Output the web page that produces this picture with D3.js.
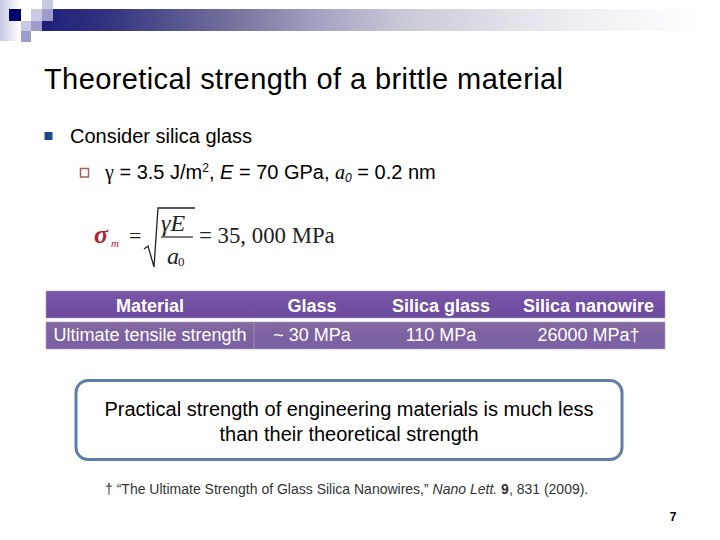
<!DOCTYPE html>
<html><head><meta charset="utf-8">
<script src="https://cdn.jsdelivr.net/npm/d3@7"></script>
<style>html,body{margin:0;padding:0;background:#fff}svg{display:block;font-family:"Liberation Sans",Arial,sans-serif}</style>
</head><body><svg id="c" width="720" height="540"></svg>
<script>
const columns = ["Material", "Glass", "Silica glass", "Silica nanowire"];
const rowValues = ["Ultimate tensile strength", "~ 30 MPa", "110 MPa", "26000 MPa†"];
const columnEdges = [46, 254, 370, 512, 665];
const titleText = "Theoretical strength of a brittle material";
const bulletText = "Consider silica glass";
const calloutLines = ["Practical strength of engineering materials is much less", "than their theoretical strength"];
const pageNumber = "7";

const svg = d3.select("#c");
const defs = svg.append("defs");
function grad(id, stops, x2, y2){
  const g = defs.append("linearGradient").attr("id", id).attr("x1",0).attr("y1",0).attr("x2",x2).attr("y2",y2);
  stops.forEach(s => g.append("stop").attr("offset", s[0]).attr("stop-color", s[1]));
}
grad("band", [[0,"#1f1f7a"],[0.1,"#33337f"],[0.3,"#77779f"],[0.42,"#a3a3c3"],[0.55,"#c9cad7"],[0.72,"#e3e3ec"],[0.88,"#f5f5f8"],[1,"#ffffff"]],1,0);
grad("side", [[0,"#c6c6e2"],[1,"#ffffff"]],1,0);
grad("head", [[0,"#7a56a8"],[1,"#6c4a9e"]],0,1);
grad("cell", [[0,"#85699f"],[0.5,"#7d62a2"],[1,"#7a5fa4"]],0,1);

// Decorative header
svg.append("rect").attr("x",42).attr("y",9).attr("width",660).attr("height",22).attr("fill","url(#band)");
svg.append("rect").attr("x",0).attr("y",0).attr("width",20).attr("height",41).attr("fill","url(#side)");
const squares = [[9,9,12,12,"#00006e"],[31,9,11,12,"#c9c9e3"],[42,0,11,9,"#c9c9e3"],[42,9,11,12,"#9d9dcb"],
  [21,21,10,10,"#c9c9e3"],[31,21,11,10,"#9d9dcb"],[21,31,10,11,"#9d9dcb"]];
svg.append("g").selectAll("rect").data(squares).join("rect")
  .attr("x",d=>d[0]).attr("y",d=>d[1]).attr("width",d=>d[2]).attr("height",d=>d[3]).attr("fill",d=>d[4]);

// Title
svg.append("text").attr("x",44).attr("y",89).attr("font-size",29).attr("textLength",519).attr("fill","#000").text(titleText);

// Bullets
svg.append("rect").attr("x",44.5).attr("y",132).attr("width",8).attr("height",8).attr("fill","#1f4a86");
svg.append("text").attr("x",70).attr("y",143).attr("font-size",20).attr("textLength",182).text(bulletText);
svg.append("rect").attr("x",80.5).attr("y",168.5).attr("width",8).attr("height",8.5).attr("fill","none").attr("stroke","#a4635f").attr("stroke-width",1.5);

const sub = svg.append("text").attr("x",105).attr("y",179).attr("font-size",20);
sub.append("tspan").attr("font-family","Liberation Serif").text("γ");
sub.append("tspan").text(" = 3.5 J/m");
sub.append("tspan").attr("font-size",12).attr("dy",-7).text("2");
sub.append("tspan").attr("dy",7).text(", ");
sub.append("tspan").attr("font-style","italic").text("E");
sub.append("tspan").text(" = 70 GPa, ");
sub.append("tspan").attr("font-family","Liberation Serif").attr("font-style","italic").text("a");
sub.append("tspan").attr("font-size",12).attr("dy",3).attr("font-style","italic").text("0");
sub.append("tspan").attr("dy",-3).text(" = 0.2 nm");

// Equation
const serif = "Liberation Serif";
const eq = svg.append("g").attr("fill","#222").attr("font-family",serif);
eq.append("text").attr("x",94).attr("y",243).attr("font-style","italic").attr("font-weight","bold").attr("font-size",26).attr("fill","#b02030").text("σ");
eq.append("text").attr("x",111).attr("y",247).attr("font-style","italic").attr("font-size",11).attr("fill","#b02030").text("m");
eq.append("text").attr("x",129).attr("y",243).attr("font-size",22).text("=");
eq.append("path").attr("d", d3.line()([[144,249],[148,246],[154,267],[158,208],[195,208]])).attr("fill","none").attr("stroke","#222").attr("stroke-width",1.3);
eq.append("line").attr("x1",161).attr("x2",193).attr("y1",237).attr("y2",237).attr("stroke","#222").attr("stroke-width",1.2);
eq.append("text").attr("x",161).attr("y",231).attr("font-style","italic").attr("font-size",24).text("γE");
eq.append("text").attr("x",167).attr("y",264).attr("font-style","italic").attr("font-size",24).text("a");
eq.append("text").attr("x",178).attr("y",266).attr("font-size",13).text("0");
eq.append("text").attr("x",199).attr("y",243).attr("font-size",22.8).text("= 35, 000 MPa");

// Table
const band = d3.scaleOrdinal().domain(columns).range(columnEdges.slice(0,-1));
const next = d3.scaleOrdinal().domain(columns).range(columnEdges.slice(1));
const mid = c => (band(c)+next(c))/2;
svg.append("rect").attr("x",46).attr("y",291).attr("width",619).attr("height",27).attr("fill","url(#head)").attr("stroke","#a99cc0").attr("stroke-width",.6);
svg.append("rect").attr("x",46).attr("y",322).attr("width",619).attr("height",27).attr("fill","url(#cell)").attr("stroke","#a99cc0").attr("stroke-width",.6);
svg.append("line").attr("x1",band(columns[1])).attr("x2",band(columns[1])).attr("y1",322).attr("y2",349).attr("stroke","#a99cc0").attr("stroke-width",.8);
svg.append("g").selectAll("text").data(columns).join("text")
  .attr("x",mid).attr("y",312).attr("text-anchor","middle").attr("font-size",18).attr("font-weight","bold").attr("fill","#fff").text(c=>c);
svg.append("g").selectAll("text").data(rowValues).join("text")
  .attr("x",(d,i)=>mid(columns[i])).attr("y",341).attr("text-anchor","middle").attr("font-size",18).attr("fill","#fff").text(d=>d);

// Callout
svg.append("rect").attr("x",76).attr("y",380.5).attr("width",546).attr("height",79).attr("rx",12).attr("fill","#fff").attr("stroke","#5e7fa8").attr("stroke-width",3);
svg.append("g").selectAll("text").data(calloutLines).join("text")
  .attr("x",349).attr("y",(d,i)=>416+i*24.5).attr("text-anchor","middle").attr("font-size",20).attr("fill","#000").text(d=>d);

// Reference
const ref = svg.append("text").attr("x",105).attr("y",494).attr("font-size",14).attr("fill","#333");
ref.append("tspan").text("† “The Ultimate Strength of Glass Silica Nanowires,” ");
ref.append("tspan").attr("font-style","italic").text("Nano Lett. ");
ref.append("tspan").attr("font-weight","bold").text("9");
ref.append("tspan").text(", 831 (2009).");

svg.append("text").attr("x",673).attr("y",521).attr("text-anchor","middle").attr("font-size",12).attr("font-weight","bold").attr("fill","#000").text(pageNumber);
</script></body></html>
